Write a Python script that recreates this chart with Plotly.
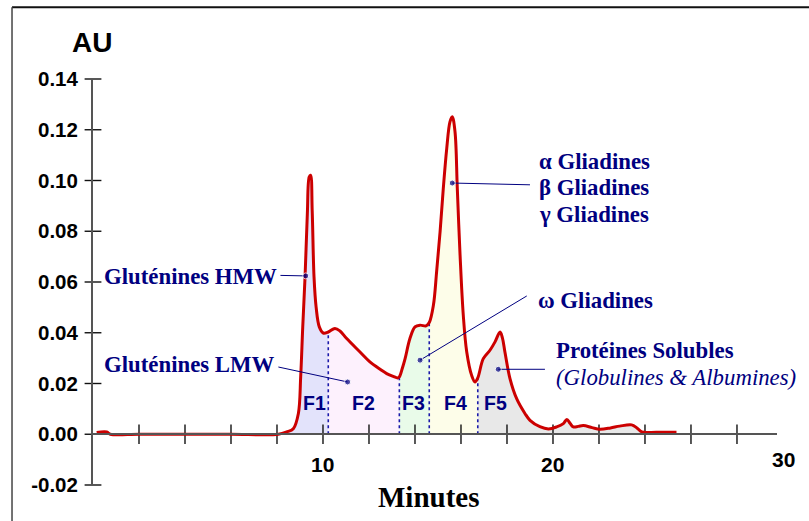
import numpy as np
import plotly.graph_objects as go

# ---------------- data ----------------
time_min = [0.16, 0.6, 0.75, 2, 4, 6, 8.06, 8.42, 8.71, 8.93, 9.03, 9.12, 9.22, 9.32, 9.40, 9.46,
            9.53, 9.61, 9.70, 9.84, 10.01, 10.23, 10.52, 10.74, 11.03, 11.61, 12.04, 12.5, 12.77,
            13.05, 13.25, 13.32, 13.45, 13.57, 13.78, 14.0, 14.22, 14.48, 14.62, 14.8, 14.94, 15.09,
            15.23, 15.38, 15.52, 15.62, 15.74, 15.84, 15.96, 16.1, 16.25, 16.46, 16.61, 16.73, 16.97,
            17.26, 17.48, 17.7, 17.8, 17.91, 18.13, 18.42, 18.78, 19.0, 19.43, 19.8, 20.16, 20.45,
            20.6, 20.75, 20.88, 21.1, 21.32, 21.7, 22.04, 22.5, 22.9, 23.42, 23.65, 23.86, 24.5, 25.37]
absorbance = [0.0007, 0.0009, 0.0, 0.0, 0.0, 0.0, 0.0, 0.0009, 0.0022, 0.0082, 0.0226, 0.0423, 0.062,
              0.087, 0.1014, 0.1021, 0.0883, 0.062, 0.0502, 0.0423, 0.0399, 0.0403, 0.0417, 0.0407,
              0.0377, 0.0324, 0.0285, 0.0255, 0.0239, 0.0228, 0.0222, 0.0226, 0.026, 0.0298, 0.0377,
              0.0423, 0.043, 0.0427, 0.0440, 0.0508, 0.064, 0.0797, 0.0968, 0.1126, 0.1231, 0.1251,
              0.1192, 0.0968, 0.0706, 0.0469, 0.0324, 0.0233, 0.0206, 0.0222, 0.0298, 0.0331, 0.0364,
              0.0403, 0.038, 0.0324, 0.0219, 0.014, 0.0082, 0.0055, 0.003, 0.0021, 0.0029, 0.0042,
              0.0058, 0.0042, 0.0029, 0.0031, 0.0034, 0.0026, 0.002, 0.0025, 0.0032, 0.0037, 0.0025,
              0.0009, 0.0008, 0.0008]

fraction_names = ["F1", "F2", "F3", "F4", "F5"]
fraction_bounds = [8.42, 10.23, 13.32, 14.62, 16.73, 23.86]
fraction_colors = ["#e3e3fb", "#fdf1fd", "#e9fbe9", "#fdfde9", "#e8e8e8"]
fraction_label_x = [9.61, 11.74, 13.93, 15.78, 17.52]
fraction_label_y = 0.0124

y_tick_values = [-0.02, 0.0, 0.02, 0.04, 0.06, 0.08, 0.10, 0.12, 0.14]
y_tick_labels = ["-0.02", "0.00", "0.02", "0.04", "0.06", "0.08", "0.10", "0.12", "0.14"]
x_tick_values = [2, 4, 6, 8, 10, 12, 14, 16, 18, 20, 22, 24, 26, 28]
x_label_values = [10, 20]
x_last_label = "30"

# labels with pointer lines
label_texts = ["Gluténines HMW", "Gluténines LMW", "α Gliadines", "β Gliadines", "γ Gliadines",
               "ω Gliadines", "Protéines Solubles", "<i>(Globulines &amp; Albumines)</i>"]
label_x = [8.1, 8.0, 19.3, 19.3, 19.3, 19.27, 20.05, 20.05]
label_y = [0.0621, 0.0274, 0.1075, 0.0971, 0.0866, 0.0526, 0.0329, 0.0224]
label_anchor = ["right", "right", "left", "left", "left", "left", "left", "left"]

pointer_start_x = [8.15, 8.06, 19.0, 18.86, 19.65]
pointer_start_y = [0.0626, 0.0265, 0.0983, 0.0545, 0.0256]
pointer_dot_x = [9.25, 11.07, 15.62, 14.22, 17.62]
pointer_dot_y = [0.0624, 0.0206, 0.099, 0.0292, 0.0256]

# ---------------- figure ----------------
NAVY = "#000080"
RED = "#cc0000"
t = np.array(time_min)
a = np.array(absorbance)

fig = go.Figure()

# fraction fills
for i, name in enumerate(fraction_names):
    m = (t >= fraction_bounds[i]) & (t <= fraction_bounds[i + 1])
    fig.add_trace(go.Scatter(x=t[m], y=a[m], mode="lines", line=dict(width=0, shape="spline"),
                             fill="tozeroy", fillcolor=fraction_colors[i], hoverinfo="skip",
                             showlegend=False))

# dotted boundaries between fractions
for b in fraction_bounds[1:-1]:
    yb = a[np.argmin(np.abs(t - b))]
    fig.add_trace(go.Scatter(x=[b, b], y=[0, yb], mode="lines",
                             line=dict(color="#1a1aaa", width=1.6, dash="dot"),
                             hoverinfo="skip", showlegend=False))

# crossing ticks
fig.add_trace(go.Scatter(x=x_tick_values, y=[0] * len(x_tick_values), mode="markers",
                         marker=dict(symbol="line-ns", size=14, line=dict(width=1.4, color="#111")),
                         hoverinfo="skip", showlegend=False, cliponaxis=False))
fig.add_trace(go.Scatter(x=[0] * len(y_tick_values), y=y_tick_values, mode="markers",
                         marker=dict(symbol="line-ew", size=12, line=dict(width=1.4, color="#111")),
                         hoverinfo="skip", showlegend=False, cliponaxis=False))

# chromatogram
fig.add_trace(go.Scatter(x=t, y=a, mode="lines", line=dict(color=RED, width=3, shape="spline"),
                         showlegend=False, cliponaxis=False))

# pointer lines with dots
for i in range(len(pointer_dot_x)):
    fig.add_trace(go.Scatter(x=[pointer_start_x[i], pointer_dot_x[i]],
                             y=[pointer_start_y[i], pointer_dot_y[i]],
                             mode="lines+markers",
                             line=dict(color=NAVY, width=1),
                             marker=dict(size=[0, 6], color=NAVY),
                             hoverinfo="skip", showlegend=False))

annotations = []
for txt, x, y, anc in zip(label_texts, label_x, label_y, label_anchor):
    annotations.append(dict(x=x, y=y, xref="x", yref="y",
                            text=txt if txt.startswith("<i>") else "<b>" + txt + "</b>",
                            showarrow=False, xanchor=anc, yanchor="middle",
                            font=dict(family="Liberation Serif", size=22.8, color=NAVY)))
for name, x in zip(fraction_names, fraction_label_x):
    annotations.append(dict(x=x, y=fraction_label_y, xref="x", yref="y", text="<b>" + name + "</b>",
                            showarrow=False, xanchor="center", yanchor="middle",
                            font=dict(family="Liberation Sans", size=19.5, color=NAVY)))
for v in x_label_values:
    annotations.append(dict(x=v, y=-0.0118, xref="x", yref="y", text="<b>%d</b>" % v,
                            showarrow=False, xanchor="center", yanchor="middle",
                            font=dict(family="Liberation Sans", size=21, color="#000")))
annotations.append(dict(x=1.0102, y=0.064, xref="paper", yref="paper", text="<b>" + x_last_label + "</b>",
                        showarrow=False, xanchor="center", yanchor="middle",
                        font=dict(family="Liberation Sans", size=21, color="#000")))
annotations.append(dict(x=-0.0015, y=1.091, xref="paper", yref="paper", text="<b>AU</b>",
                        showarrow=False, xanchor="center", yanchor="middle",
                        font=dict(family="Liberation Sans", size=28, color="#000")))
annotations.append(dict(x=0.491, y=-0.0296, xref="paper", yref="paper", text="<b>Minutes</b>",
                        showarrow=False, xanchor="center", yanchor="middle",
                        font=dict(family="Liberation Serif", size=29, color="#000")))

shapes = [
    dict(type="line", xref="paper", yref="paper", x0=-0.1184, x1=1.2, y0=1.177, y1=1.177,
         line=dict(color="#111", width=2)),
    dict(type="line", xref="paper", yref="paper", x0=-0.1184, x1=-0.1184, y0=1.177, y1=-0.2,
         line=dict(color="#444", width=1.5)),
]

fig.update_layout(
    width=809, height=521,
    margin=dict(l=93, r=32, t=79, b=36),
    paper_bgcolor="white", plot_bgcolor="white",
    showlegend=False,
    annotations=annotations,
    shapes=shapes,
    xaxis=dict(range=[0, 29.74], showgrid=False, zeroline=False, showticklabels=False,
               ticks="", anchor="free", position=0.125, showline=True,
               linecolor="#555", linewidth=2),
    yaxis=dict(range=[-0.02, 0.14], showgrid=False, zeroline=False, showline=True,
               linecolor="#555", linewidth=2, tickvals=y_tick_values, ticktext=y_tick_labels,
               ticks="outside", ticklen=9, tickcolor="rgba(0,0,0,0)",
               tickfont=dict(family="Liberation Sans", size=20.5, color="#000", weight="bold")),
)

fig.write_html("out.html", config={"displayModeBar": False},
               post_script="document.body.style.margin='0';document.body.style.overflow='hidden';")
